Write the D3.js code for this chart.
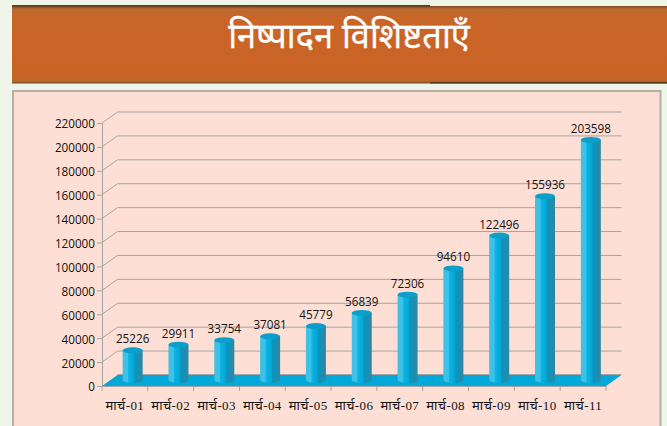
<!DOCTYPE html>
<html>
<head>
<meta charset="utf-8">
<script src="https://cdn.jsdelivr.net/npm/d3@7"></script>
<style>
html, body { margin: 0; padding: 0; background: #eff6e9; overflow: hidden; }
svg { display: block; }
text { font-family: "Open Sans", "Noto Sans", sans-serif; }
</style>
</head>
<body>
<svg id="graph" width="667" height="426"></svg>
<script>
var categories = ["मार्च-01", "मार्च-02", "मार्च-03", "मार्च-04", "मार्च-05", "मार्च-06", "मार्च-07", "मार्च-08", "मार्च-09", "मार्च-10", "मार्च-11"]
var values = [25226, 29911, 33754, 37081, 45779, 56839, 72306, 94610, 122496, 155936, 203598]
var yTicks = [0, 20000, 40000, 60000, 80000, 100000, 120000, 140000, 160000, 180000, 200000, 220000]
var title = "निष्पादन विशिष्टताएँ"

var svg = d3.select("#graph")
var defs = svg.append("defs")

var bannerGrad = defs.append("linearGradient").attr("id", "banner")
    .attr("x1", 0).attr("y1", 0).attr("x2", 0).attr("y2", 1)
bannerGrad.append("stop").attr("offset", "0").attr("stop-color", "#7a4a22")
bannerGrad.append("stop").attr("offset", "0.04").attr("stop-color", "#bd6a30")
bannerGrad.append("stop").attr("offset", "0.15").attr("stop-color", "#c96526")
bannerGrad.append("stop").attr("offset", "0.9").attr("stop-color", "#ca6426")
bannerGrad.append("stop").attr("offset", "0.97").attr("stop-color", "#b8682f")
bannerGrad.append("stop").attr("offset", "1").attr("stop-color", "#6a4a26")

var barGrad = defs.append("linearGradient").attr("id", "bar")
    .attr("x1", 0).attr("y1", 0).attr("x2", 1).attr("y2", 0)
barGrad.append("stop").attr("offset", "0").attr("stop-color", "#42bfe4")
barGrad.append("stop").attr("offset", "0.25").attr("stop-color", "#3cc2ea")
barGrad.append("stop").attr("offset", "0.3").attr("stop-color", "#0db4e2")
barGrad.append("stop").attr("offset", "0.55").attr("stop-color", "#02a8d8")
barGrad.append("stop").attr("offset", "0.62").attr("stop-color", "#0b94bc")
barGrad.append("stop").attr("offset", "1").attr("stop-color", "#2f87a3")

// banner
svg.append("rect").attr("x", 12).attr("y", 6).attr("width", 655).attr("height", 77.5).attr("fill", "url(#banner)")
svg.append("rect").attr("x", 12).attr("y", 5).attr("width", 418).attr("height", 1.5).attr("fill", "#5e3a1c")
svg.append("rect").attr("x", 430).attr("y", 82).attr("width", 237).attr("height", 1.5).attr("fill", "#5e3a1c")
svg.append("text").attr("x", 349).attr("y", 48).attr("text-anchor", "middle")
    .attr("fill", "#fff").attr("stroke", "#fff").attr("stroke-width", 0.3)
    .attr("font-size", 34.4).style("font-family", "'Noto Sans', sans-serif")
    .text(title)

// panel
svg.append("rect").attr("x", 13).attr("y", 91).attr("width", 647.5).attr("height", 345)
    .attr("fill", "#fddfd5").attr("stroke", "#b1b1a7").attr("stroke-width", 2)

// chart geometry
var x0 = 102, x1 = 606
var depthX = 15.5, depthY = 11

var xScale = d3.scaleBand().domain(categories).range([x0, x1])
var yScale = d3.scaleLinear().domain([0, 220000]).range([386, 123])
// cylinders stand mid-depth and come out a little shorter than the wall grid
var barScale = d3.scaleLinear().domain([0, 220000]).range([380, 120.6])

// back wall grid
var grid = svg.append("g")
grid.selectAll(".back").data(yTicks.slice(1)).enter().append("line")
    .attr("x1", x0 + depthX).attr("x2", x1 + depthX)
    .attr("y1", d => yScale(d) - depthY).attr("y2", d => yScale(d) - depthY)
    .attr("stroke", "#a5a5a5").attr("stroke-width", 1)
grid.selectAll(".side").data(yTicks.slice(1)).enter().append("line")
    .attr("x1", x0).attr("x2", x0 + depthX)
    .attr("y1", d => yScale(d)).attr("y2", d => yScale(d) - depthY)
    .attr("stroke", "#a5a5a5").attr("stroke-width", 1)

// floor
var floor = [[x0, yScale(0)], [x0 + depthX, yScale(0) - depthY], [x1 + depthX, yScale(0) - depthY], [x1, yScale(0)]]
svg.append("line").attr("x1", x0 + depthX).attr("x2", x1 + depthX)
    .attr("y1", yScale(0) - depthY - 0.5).attr("y2", yScale(0) - depthY - 0.5).attr("stroke", "#a5a5a5")
svg.append("path").attr("d", d3.line()(floor) + "Z").attr("fill", "#01a8d8")

// axes
var yAxis = d3.axisLeft(yScale).tickValues(yTicks).tickFormat(d3.format("d")).tickSize(5).tickPadding(2)
var gy = svg.append("g").attr("transform", "translate(" + x0 + ",0)").call(yAxis)
gy.select(".domain").attr("stroke", "#a5a5a5")
gy.selectAll("line").attr("stroke", "#a5a5a5")
gy.selectAll("text").attr("fill", "#111").attr("font-size", 11.7).attr("dy", "0.42em")

var xAxis = d3.axisBottom(xScale).tickSize(0).tickPadding(15)
var gx = svg.append("g").attr("transform", "translate(0," + yScale(0) + ")").call(xAxis)
gx.select(".domain").attr("stroke", "#a5a5a5")
gx.selectAll("text").attr("fill", "#111").attr("font-size", 13).attr("letter-spacing", 0.4)
    .style("font-family", "'Liberation Serif', 'Noto Sans', serif")
gx.selectAll(".edge").data(d3.range(0, 12)).enter().append("line").attr("class", "edge")
    .attr("x1", d => x0 + d * xScale.step()).attr("x2", d => x0 + d * xScale.step())
    .attr("y1", 0).attr("y2", 5).attr("stroke", "#a5a5a5")

// cylinders
var barW = 20, ry = 3, midX = depthX / 2
function cx(i) { return xScale(categories[i]) + xScale.bandwidth() / 2 + midX }
var bars = svg.append("g")
bars.selectAll(".cyl").data(values).enter().append("path")
    .attr("fill", "url(#bar)")
    .attr("d", (d, i) => {
        var l = cx(i) - barW / 2, r = cx(i) + barW / 2
        var top = barScale(d), bot = barScale(0)
        return "M" + l + "," + top + "L" + l + "," + bot +
            "A" + barW / 2 + "," + ry + " 0 0 0 " + r + "," + bot +
            "L" + r + "," + top + "Z"
    })
bars.selectAll(".cap").data(values).enter().append("ellipse")
    .attr("cx", (d, i) => cx(i)).attr("cy", d => barScale(d))
    .attr("rx", barW / 2).attr("ry", ry).attr("fill", "#0b9fc9")

// value labels
svg.selectAll(".val").data(values).enter().append("text")
    .attr("x", (d, i) => cx(i)).attr("y", d => barScale(d) - 7)
    .attr("text-anchor", "middle").attr("fill", "#111").attr("font-size", 11.7)
    .text(d => d)
</script>
</body>
</html>
